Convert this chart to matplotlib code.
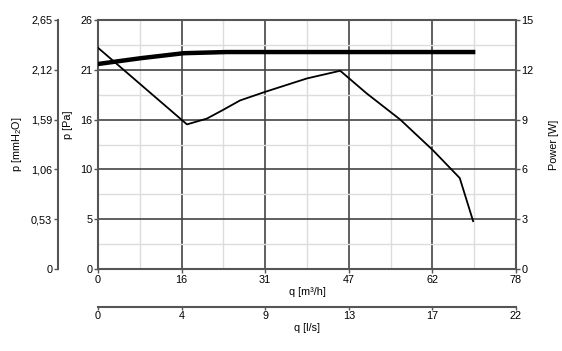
import matplotlib
matplotlib.use("Agg")
import matplotlib.pyplot as plt
from matplotlib.ticker import MultipleLocator, FuncFormatter

plt.rcParams['font.family'] = ['Liberation Sans', 'DejaVu Sans']
plt.rcParams['mathtext.default'] = 'regular'

# pressure curve, q [m3/h] vs p [Pa]
q_press = [0, 16.6, 20.3, 23.3, 26.5, 31.2, 39.0, 45.2, 50.1, 56.4, 62.5, 67.5, 70.0]
p_press = [23.1, 15.1, 15.7, 16.6, 17.6, 18.5, 19.9, 20.7, 18.35, 15.6, 12.4, 9.5, 5.0]

# power curve, q [m3/h] vs W
q_power = [0, 8, 16, 24, 40, 70]
p_power = [12.35, 12.7, 13.0, 13.07, 13.07, 13.07]

q_max = 78
pa_max = 26
mm_max = 2.65
w_max = 15

spine_c = '#555555'
fs = 7.8

fig = plt.figure(figsize=(5.62, 3.51), dpi=100)
ax = fig.add_axes([98/562, 1-269/351, (516-98)/562, (269-20)/351])

ax.set_xlim(0, q_max)
ax.set_ylim(0, pa_max)
ax.xaxis.set_major_locator(MultipleLocator(q_max/5))
ax.xaxis.set_minor_locator(MultipleLocator(q_max/10))
ax.yaxis.set_major_locator(MultipleLocator(pa_max/5))
ax.yaxis.set_minor_locator(MultipleLocator(pa_max/10))
ax.xaxis.set_major_formatter(FuncFormatter(lambda v, p: '%d' % round(v)))
ax.yaxis.set_major_formatter(FuncFormatter(lambda v, p: '%d' % round(v)))
ax.grid(which='minor', color='#dcdcdc', lw=1.0)
ax.grid(which='major', color='#444444', lw=1.2)
ax.set_axisbelow(True)
ax.tick_params(which='major', length=3, width=1, color=spine_c, labelsize=fs, pad=1)
ax.tick_params(which='minor', length=0)
for s in ax.spines.values():
    s.set_color(spine_c)
    s.set_linewidth(1.5)
ax.spines['right'].set_visible(False)

ax.plot(q_press, p_press, color='black', lw=1.3, zorder=5)
ax.set_xlabel('q [m³/h]', fontsize=fs, labelpad=2)
ax.set_ylabel('p [Pa]', fontsize=fs)
ax.yaxis.set_label_coords(-0.06, 0.58)

# power axis on the right
axw = ax.twinx()
axw.set_ylim(0, w_max)
axw.yaxis.set_major_locator(MultipleLocator(3))
axw.tick_params(length=3, width=1, color=spine_c, labelsize=fs, pad=1)
for s in axw.spines.values():
    s.set_visible(False)
axw.spines['right'].set_visible(True)
axw.spines['right'].set_color(spine_c)
axw.spines['right'].set_linewidth(1.5)
axw.plot(q_power, p_power, color='black', lw=3.2, zorder=6)
axw.set_ylabel('Power [W]', fontsize=fs, rotation=90)
axw.yaxis.set_label_coords(1.078, 0.5)

# mmH2O axis on the far left
axm = ax.twinx()
axm.set_ylim(0, mm_max)
axm.yaxis.set_major_locator(MultipleLocator(0.53))
axm.yaxis.set_major_formatter(FuncFormatter(lambda v, p: ('%.2f' % v).replace('.', ',') if v > 0 else '0'))
axm.yaxis.set_ticks_position('left')
axm.yaxis.set_label_position('left')
for s in axm.spines.values():
    s.set_visible(False)
axm.spines['left'].set_visible(True)
axm.spines['left'].set_position(('outward', 29))
axm.spines['left'].set_color(spine_c)
axm.spines['left'].set_linewidth(1.5)
axm.tick_params(length=3, width=1, color=spine_c, labelsize=fs, pad=1)
axm.set_ylabel('p [mmH$_2$O]', fontsize=fs)
axm.yaxis.set_label_coords(-0.176, 0.5)

# l/s axis below
axq = ax.twiny()
axq.set_xlim(0, q_max/3.6)
axq.xaxis.set_major_locator(MultipleLocator(q_max/3.6/5))
axq.xaxis.set_major_formatter(FuncFormatter(lambda v, p: '%d' % round(v)))
axq.xaxis.set_ticks_position('bottom')
axq.xaxis.set_label_position('bottom')
for s in axq.spines.values():
    s.set_visible(False)
axq.spines['bottom'].set_visible(True)
axq.spines['bottom'].set_position(('outward', 27))
axq.spines['bottom'].set_color(spine_c)
axq.spines['bottom'].set_linewidth(1.5)
axq.tick_params(length=2, width=1, color=spine_c, labelsize=fs, pad=1)
axq.set_xlabel('q [l/s]', fontsize=fs, labelpad=2)

fig.savefig('out.png', dpi=100)
